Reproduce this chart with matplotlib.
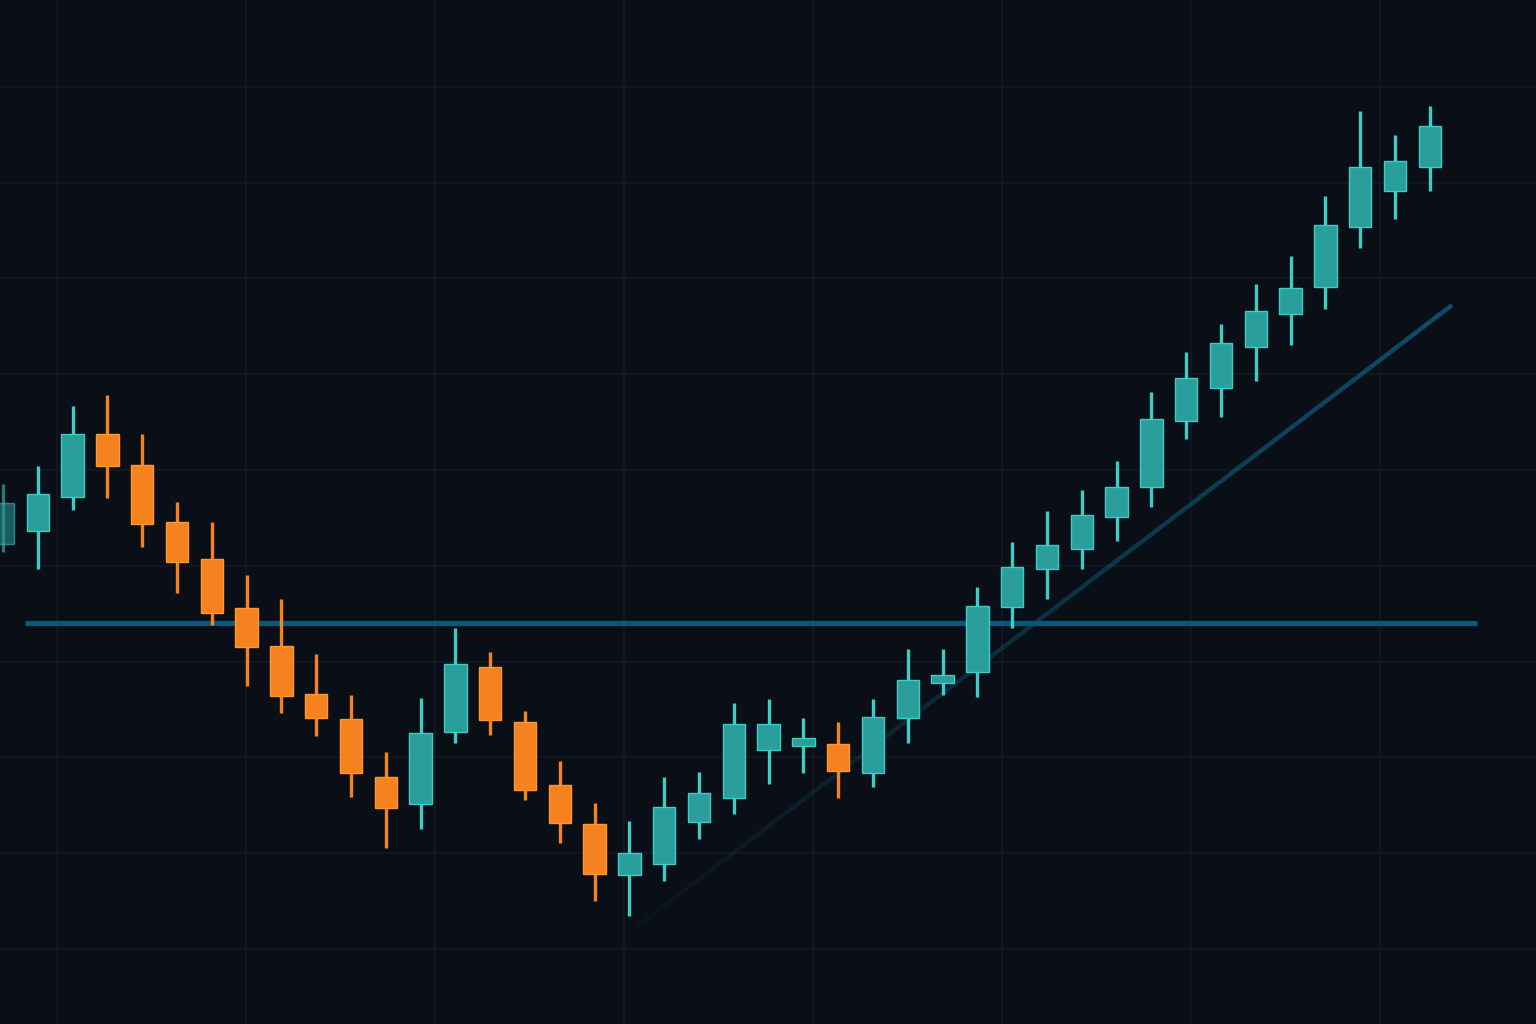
import numpy as np
import matplotlib
matplotlib.use("Agg")
import matplotlib.pyplot as plt
from matplotlib.collections import LineCollection

# ---- data ----
opens = [142.27, 143.63, 147.18, 153.76, 150.52, 144.57, 140.71, 135.59, 131.63, 126.62,
         124.01, 117.95, 115.14, 122.65, 129.44, 123.69, 117.12, 113.05, 107.72, 108.87,
         113.26, 115.76, 120.77, 121.19, 121.40, 118.37, 124.11, 127.77, 128.91, 135.70,
         139.66, 141.75, 145.09, 148.22, 155.11, 158.56, 162.84, 166.28, 169.10, 175.36,
         179.12, 181.63]
closes = [146.55, 147.49, 153.76, 150.42, 144.36, 140.39, 135.07, 131.52, 126.41, 124.11,
          118.37, 114.72, 122.55, 129.75, 123.90, 116.60, 113.15, 107.83, 110.02, 114.82,
          116.28, 123.49, 123.49, 122.02, 118.58, 124.22, 128.08, 128.60, 135.80, 139.87,
          142.17, 145.30, 148.22, 155.32, 159.60, 163.25, 166.59, 169.00, 175.57, 181.63,
          182.25, 185.90]
highs = [148.54, 150.42, 156.68, 157.83, 153.76, 146.66, 144.57, 139.04, 136.53, 130.79,
         126.51, 120.56, 126.20, 133.51, 131.00, 124.84, 119.62, 115.24, 113.36, 117.95,
         118.48, 125.68, 126.10, 124.11, 123.69, 126.10, 131.31, 131.31, 137.79, 142.48,
         145.72, 147.91, 150.94, 158.14, 162.31, 165.24, 169.41, 172.34, 178.60, 187.47,
         184.97, 187.99]
lows = [141.44, 139.66, 145.82, 147.08, 141.96, 137.16, 133.82, 127.45, 124.63, 122.23,
        115.87, 110.54, 112.53, 121.50, 122.34, 115.55, 111.06, 105.01, 103.44, 107.10,
        111.48, 114.09, 117.22, 118.37, 115.76, 116.91, 121.50, 126.51, 126.30, 133.51,
        136.53, 139.66, 142.59, 146.14, 153.23, 155.53, 159.29, 163.05, 166.80, 173.17,
        176.20, 179.12]
sessions = np.arange(len(opens))

level_price = 134.03
level_span = [0.63, 42.36]
trend_x = [18.16, 41.64]
trend_y = [102.19, 167.22]

# ---- style ----
BG = "#0a0e16"
GRID = "#12171f"
UP = "#2a9e9b"
UP_EDGE = "#3ccdc8"
DOWN = "#f5821f"
DOWN_EDGE = "#ff9630"
LEVEL = "#0c5878"

fig = plt.figure(figsize=(15.36, 10.24), dpi=100, facecolor=BG)
ax = fig.add_axes([0, 0, 1, 1])
ax.set_facecolor(BG)

ax.set_xlim(-3 / 34.8, 1533 / 34.8)
ax.set_ylim(92.17, 199.06)

# grid
ax.set_xticks(np.arange(1.552, 44, 5.431))
ax.set_yticks(np.arange(100, 200, 10))
ax.grid(True, color=GRID, linewidth=1.6)
ax.tick_params(length=0, labelbottom=False, labelleft=False)
for s in ax.spines.values():
    s.set_visible(False)
ax.set_axisbelow(True)

# support level
ax.hlines(level_price, level_span[0], level_span[1], color=LEVEL, linewidth=3.8, zorder=2)

# trend line with fading gradient
n = 80
tx = np.linspace(trend_x[0], trend_x[1], n + 1)
ty = np.linspace(trend_y[0], trend_y[1], n + 1)
segs = [[(tx[i], ty[i]), (tx[i + 1], ty[i + 1])] for i in range(n)]
alphas = np.linspace(0.08, 0.95, n)
cols = [(0.05, 0.32, 0.43, a) for a in alphas]
ax.add_collection(LineCollection(segs, colors=cols, linewidths=3.2, capstyle="butt", zorder=2))

# candles
o = np.array(opens); c = np.array(closes); h = np.array(highs); l = np.array(lows)
up = c >= o
for i in sessions:
    a = 0.55 if i == 0 else 1.0
    col = UP if up[i] else DOWN
    edge = UP_EDGE if up[i] else DOWN_EDGE
    wick = UP_EDGE if up[i] else DOWN
    ax.vlines(i, l[i], h[i], color=wick, linewidth=2.4, alpha=a, zorder=3)
    ax.bar(i, abs(c[i] - o[i]), bottom=min(o[i], c[i]), width=0.64,
           color=col, edgecolor=edge, linewidth=1.0, alpha=a, zorder=4)

fig.savefig("out.png", dpi=100, facecolor=BG)
